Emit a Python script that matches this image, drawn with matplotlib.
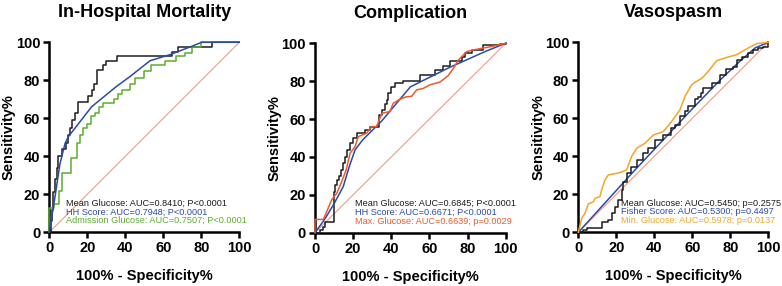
import matplotlib
matplotlib.use("Agg")
import matplotlib.pyplot as plt

plt.rcParams['font.family'] = ['Liberation Sans', 'DejaVu Sans']

# ---------------- data ----------------
titles = ["In-Hospital Mortality", "Complication", "Vasospasm"]
xlabel = "100% - Specificity%"
ylabel = "Sensitivity%"
ticks = [0, 20, 40, 60, 80, 100]

# Panel 1
p1_mean_x = [0, 0.8, 1.3, 2.1, 3.0, 3.9, 4.7, 6.5, 8.6, 10, 11, 12, 13.5, 15.3, 20.5, 22.3, 23.7, 24.9, 28.4, 29.8, 35.8, 64.4, 67.9, 85.8, 100]
p1_mean_y = [0, 6, 12, 21, 28, 34, 40, 44, 47, 51, 55, 59, 63, 68.5, 71.6, 75, 78, 85.5, 88, 90, 93, 95, 97.5, 100, 100]
p1_hh_x = [0, 3, 5.6, 8.3, 10, 22.3, 35, 42.5, 53, 63.5, 75, 80.2, 100]
p1_hh_y = [0, 18.7, 36, 46.8, 50.3, 66.1, 76.5, 82, 90.3, 93.5, 97.9, 100, 100]
p1_adm_x = [0, 0, 2.5, 5, 6.5, 11.6, 14.8, 15.9, 17.6, 19.7, 22, 24, 26, 28, 34, 36, 38, 42.5, 45, 50, 53.4, 61, 66.6, 71.5, 75, 80, 100]
p1_adm_y = [0, 12.6, 15, 22, 31, 39, 47, 51, 55, 57, 61, 63, 66, 68, 70, 73, 75, 78, 81, 85, 88, 90.3, 92.6, 94.4, 97.5, 100, 100]
p1_labels = ["Mean Glucose: AUC=0.8410; P<0.0001",
             "HH Score: AUC=0.7948; P<0.0001",
             "Admission Glucose: AUC=0.7507; P<0.0001"]

# Panel 2
p2_mean_x = [0, 2.6, 4.4, 5.2, 10, 10.5, 11.4, 12.5, 13.5, 14.8, 15.7, 16.6, 18.4, 20, 21.9, 26, 28.8, 33.5, 35, 36.5, 37.5, 38.5, 40, 41.9, 46.3, 55, 63, 67.3, 70.8, 76.9, 78.5, 82.2, 88.3, 97, 100]
p2_mean_y = [0, 1.4, 2.8, 5.8, 21.6, 25, 27.8, 30, 33, 36.6, 40, 43.7, 47.2, 50, 52.5, 54, 56, 62, 64.8, 68, 70, 73.6, 77, 78.9, 80, 83, 85.7, 87.8, 90.5, 93, 94.9, 96.6, 98.9, 99.6, 100]
p2_hh_x = [0, 5, 9.6, 14.8, 18, 21, 25, 30, 35, 40, 45, 50, 60, 70, 80, 90, 100]
p2_hh_y = [0, 7, 14.6, 24.3, 35, 43.7, 49, 54, 59, 65, 71, 77, 82, 87, 91.5, 96, 100]
p2_max_x = [0, 0, 4.4, 6.1, 8.7, 11.4, 14, 16.3, 18.4, 21, 22.7, 27, 29.7, 32.3, 35, 39.3, 41, 44.6, 48, 50.7, 53.3, 56.8, 60.3, 65.5, 69.9, 72.6, 75.2, 79.5, 83, 88.3, 93.5, 100]
p2_max_y = [0, 7, 7, 11, 17.3, 20.8, 27, 33, 42, 45.4, 50.7, 52.5, 56, 56, 63, 64, 68.3, 70.5, 71.8, 72, 75.4, 76.2, 78.1, 79.5, 83, 86.8, 91.2, 95.6, 96.5, 97.5, 98.5, 100]
p2_labels = ["Mean Glucose: AUC=0.6845; P<0.0001",
             "HH Score: AUC=0.6671; P<0.0001",
             "Max. Glucose: AUC=0.6639; p=0.0029"]

# Panel 3
p3_mean_x = [0, 2.6, 4.4, 12.3, 15.8, 17.5, 19.3, 21, 22.8, 23.7, 25.4, 28, 30.7, 34.2, 36.8, 40.4, 44.7, 49, 50.9, 53.5, 56.1, 57.9, 61.4, 63.2, 64.5, 65.8, 70.2, 74.6, 78, 81.6, 83.4, 86, 89.5, 92.1, 94.7, 97.4, 100]
p3_mean_y = [0, 1.2, 2.5, 5.6, 6.5, 10, 13.5, 17, 22.3, 26.7, 31, 34.6, 38, 41.6, 44.2, 48.6, 51.4, 54.7, 56.3, 61, 64, 66.3, 70, 71.4, 73.2, 76, 78.6, 82.8, 85.8, 87.2, 90.8, 92.5, 94.4, 96, 97, 97.7, 100]
p3_fis_x = [0, 10, 20, 30, 45.6, 60, 75, 85, 93, 100]
p3_fis_y = [0, 11, 22, 33, 49.6, 65, 80.5, 90, 97, 100]
p3_min_x = [0, 0.5, 1.8, 3.5, 5.3, 7.9, 8.8, 11.4, 12.3, 14, 15.8, 21.9, 25.4, 28, 30.7, 35, 39.5, 44.7, 49.2, 53.5, 56.2, 59.7, 62.3, 65, 68.4, 72.8, 78, 83.4, 89.5, 93.9, 100]
p3_min_y = [0, 2, 7.4, 10, 14.9, 16.1, 17.9, 18.8, 22.3, 27.5, 30.2, 31.4, 32.8, 39.8, 44.2, 46.8, 51.2, 53, 58.4, 64.5, 71.6, 77.7, 79.5, 81, 84.7, 90.3, 92, 93.5, 97, 99.3, 100]
p3_labels = ["Mean Glucose: AUC=0.5450; p=0.2575",
             "Fisher Score: AUC=0.5300; p=0.4497",
             "Min. Glucose: AUC=0.5978; p=0.0137"]

# ---------------- styles ----------------
C_BLACK = "#1c1c1c"
C_BLUE = "#2b4aa8"
C_GREEN = "#5aae2e"
C_RED = "#f0592a"
C_ORANGE = "#f5a524"
C_DIAG = "#f29a85"

fig = plt.figure(figsize=(7.82, 2.86), dpi=100)
W, H = 782, 286
boxes = [(49.3, 239.3, 42.3, 232.3), (315.0, 505.7, 43.3, 232.7), (578.3, 768.3, 42.3, 232.3)]

panels = [
    dict(title=titles[0],
         series=[(p1_mean_x, p1_mean_y, C_BLACK, 'steps-post'),
                 (p1_adm_x, p1_adm_y, C_GREEN, 'steps-post'),
                 (p1_hh_x, p1_hh_y, C_BLUE, 'default')],
         labels=p1_labels, colors=[C_BLACK, C_BLUE, C_GREEN], tx=8.6, ylx=-0.216),
    dict(title=titles[1],
         series=[(p2_mean_x, p2_mean_y, C_BLACK, 'steps-post'),
                 (p2_hh_x, p2_hh_y, C_BLUE, 'default'),
                 (p2_max_x, p2_max_y, C_RED, 'default')],
         labels=p2_labels, colors=[C_BLACK, C_BLUE, C_RED], tx=21.0, ylx=-0.21),
    dict(title=titles[2],
         series=[(p3_fis_x, p3_fis_y, C_BLUE, 'default'),
                 (p3_mean_x, p3_mean_y, C_BLACK, 'steps-post'),
                 (p3_min_x, p3_min_y, C_ORANGE, 'default')],
         labels=p3_labels, colors=[C_BLACK, C_BLUE, C_ORANGE], tx=22.5, ylx=-0.21),
]

for (x0, x1, ytop, ybot), p in zip(boxes, panels):
    ax = fig.add_axes([x0 / W, 1 - ybot / H, (x1 - x0) / W, (ybot - ytop) / H])
    ax.plot([0, 100], [0, 100], color=C_DIAG, lw=0.8, zorder=1)
    for xs, ys, c, ds in p['series']:
        ax.plot(xs, ys, color=c, lw=1.1, drawstyle=ds, clip_on=False, zorder=3)
    ax.set_xlim(0, 100)
    ax.set_ylim(0, 100)
    ax.set_xticks(ticks)
    ax.set_yticks(ticks)
    ax.tick_params(axis='both', direction='out', length=4.5, width=1.8,
                   labelsize=10.5, pad=2)
    for lab in ax.get_xticklabels() + ax.get_yticklabels():
        lab.set_fontweight('bold')
    for s in ['top', 'right']:
        ax.spines[s].set_visible(False)
    for s in ['left', 'bottom']:
        ax.spines[s].set_linewidth(1.8)
    ax.set_title(p['title'], fontsize=13, fontweight='bold', pad=18)
    ax.set_xlabel(xlabel, fontsize=10.5, fontweight='bold', labelpad=10)
    ax.set_ylabel(ylabel, fontsize=10.5, fontweight='bold')
    ax.yaxis.set_label_coords(p['ylx'], 0.5)
    ax.yaxis.label.set_verticalalignment('center')
    for i, (t, c) in enumerate(zip(p['labels'], p['colors'])):
        ax.text(p['tx'], 15.3 - 4.6 * i, t, color=c, fontsize=6.6,
                va='center', ha='left', zorder=4)

fig.savefig("out.png", dpi=100)
